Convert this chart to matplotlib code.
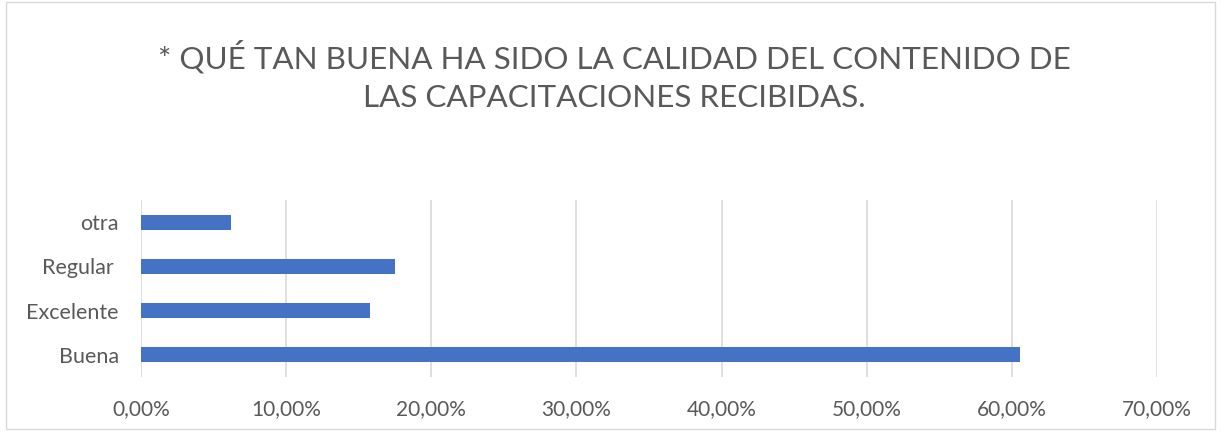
import matplotlib

matplotlib.use("Agg")

import matplotlib.pyplot as plt
from matplotlib.patches import Rectangle
from matplotlib.ticker import FuncFormatter

categories = ["Buena", "Excelente", "Regular ", "otra"]
values = [0.6055, 0.158, 0.175, 0.062]
xticks = [0.0, 0.1, 0.2, 0.3, 0.4, 0.5, 0.6, 0.7]
title = "* QUÉ TAN BUENA HA SIDO LA CALIDAD DEL CONTENIDO DE\nLAS CAPACITACIONES RECIBIDAS."

plt.rcParams["font.family"] = ["Lato", "DejaVu Sans"]

W, H = 1221, 433
fig = plt.figure(figsize=(W / 100, H / 100), dpi=100)
ax = fig.add_axes([141 / W, 1 - 377 / H, (1157 - 141) / W, (377 - 200) / H])

ax.barh(range(len(categories)), values, height=0.34, color="#4472C4", zorder=3)
ax.set_xlim(0, 0.7)
ax.set_ylim(-0.5, len(categories) - 0.5)
ax.set_xticks(xticks)
ax.xaxis.set_major_formatter(FuncFormatter(lambda v, p: f"{v * 100:.2f}%".replace(".", ",")))
ax.set_yticks(range(len(categories)))
ax.set_yticklabels(categories)
ax.grid(axis="x", color="#d9d9d9", linewidth=1.2, zorder=0)
for s in ax.spines.values():
    s.set_visible(False)
ax.tick_params(length=0, colors="#595959", labelsize=15)
ax.tick_params(axis="y", labelsize=15.5, pad=16)
ax.tick_params(axis="x", pad=16)

fig.text(0.503, 1 - 76 / H, title, ha="center", va="center", fontsize=22.6,
         color="#595959", linespacing=1.42)

fig.patches.append(Rectangle((6 / W, 4 / H), 1 - 12 / W, 1 - 6 / H, transform=fig.transFigure,
                             fill=False, edgecolor="#d9d9d9", linewidth=1))

fig.savefig("out.png", dpi=100)
